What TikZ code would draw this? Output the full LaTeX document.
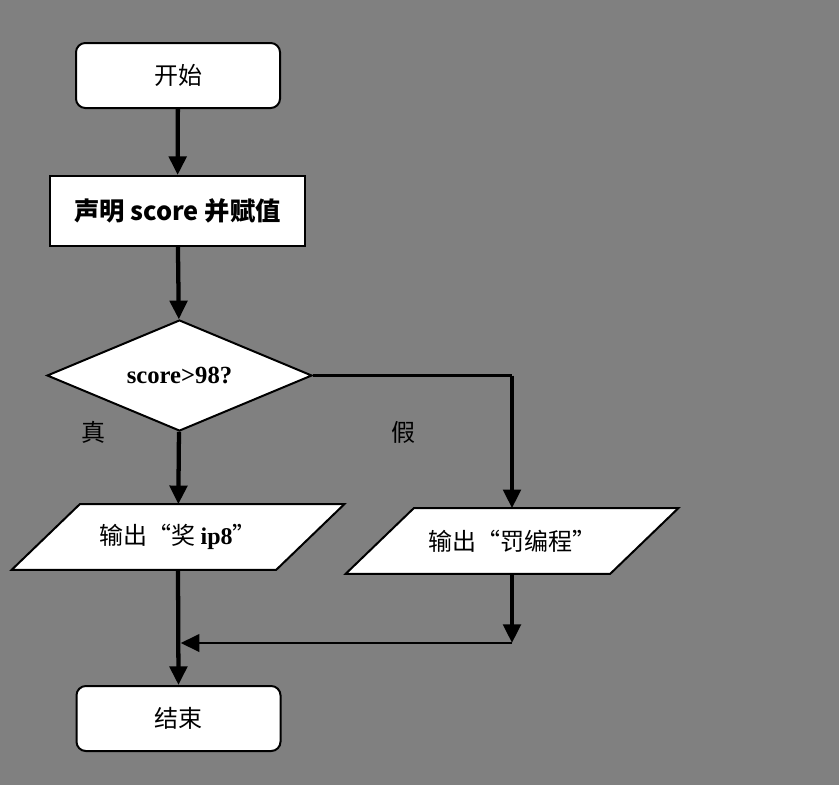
\documentclass[tikz,border=0pt]{standalone}
\usepackage{fontspec}
\setmainfont{Liberation Serif}
\newfontfamily\cjk{Noto Sans CJK SC}
\usetikzlibrary{shapes.geometric,arrows.meta,positioning}
\pgfdeclarelayer{background}
\pgfsetlayers{background,main}
\definecolor{bggray}{RGB}{128,128,128}
\newcommand{\pxu}{0.75pt}
\tikzset{
  termbox/.style={draw, line width=1.5pt, fill=white, rounded corners=7pt,
    minimum width=204*\pxu, minimum height=65*\pxu, font=\cjk\fontsize{18}{20}\selectfont},
  procbox/.style={draw, line width=1.5pt, fill=white,
    minimum width=255*\pxu, minimum height=70*\pxu, font=\cjk\bfseries\fontsize{19}{22}\selectfont},
  decbox/.style={diamond, draw, line width=1.5pt, fill=white, aspect=2.39, inner sep=0pt,
    minimum width=265*\pxu, minimum height=111*\pxu, font=\bfseries\fontsize{18.5}{21}\selectfont},
  iobox/.style={inner sep=0pt, minimum width=264*\pxu, minimum height=65*\pxu,
    font=\cjk\fontsize{18}{20}\selectfont},
  ioshape/.style={draw, line width=1.5pt, fill=white, line join=miter},
  branchlabel/.style={font=\cjk\fontsize{18}{20}\selectfont},
  flow/.style={line width=3.2pt, -{Triangle[width=13pt,length=14pt]}},
  hflow/.style={line width=2pt, -{Triangle[width=13pt,length=14pt]}},
  hline/.style={line width=2pt}
}
\begin{document}
\begin{tikzpicture}[x=0.75pt, y=-0.75pt]
    \useasboundingbox (0,0) rectangle (839,785);
    \node[termbox] (start) at (178,75.5) {开始};
    \node[procbox] (decl) at (177.5,211) {声明 score 并赋值};
    \node[decbox] (test) at (179.5,375.5) {score>98?};
    \node[iobox] (prize) at (178,537) {输出“奖 {\rmfamily\bfseries ip8}”};
    \node[iobox] (penalty) at (512,541) {输出“罚编程”};
    \node[termbox] (finish) at (178.5,718.5) {结束};
    \node[branchlabel] (yes) at (93,432) {真};
    \node[branchlabel] (no) at (403,432) {假};
    \begin{pgfonlayer}{background}
        \fill[bggray] (0,0) rectangle (839,785);
        \foreach \n in {prize,penalty}
            \draw[ioshape] ([xshift=34*\pxu]\n.north west) -- ([xshift=34*\pxu]\n.north east)
                -- ([xshift=-34*\pxu]\n.south east) -- ([xshift=-34*\pxu]\n.south west) -- cycle;
    \end{pgfonlayer}
    \coordinate (turn) at (test.east -| penalty.north);
    \coordinate (joinR) at (penalty.south |- 0,643);
    \coordinate (joinL) at ([xshift=2pt]prize.south |- 0,643);
    \draw[flow] (start) -- (decl);
    \draw[flow] (decl) -- (test);
    \draw[flow] (test) -- (prize);
    \draw[hline] (test.east) -- (turn);
    \draw[flow] (turn) -- (penalty.north);
    \draw[flow] (penalty.south) -- (joinR);
    \draw[hflow] (joinR) -- (joinL);
    \draw[flow] (prize.south) -- (finish.north);
\end{tikzpicture}
\end{document}
